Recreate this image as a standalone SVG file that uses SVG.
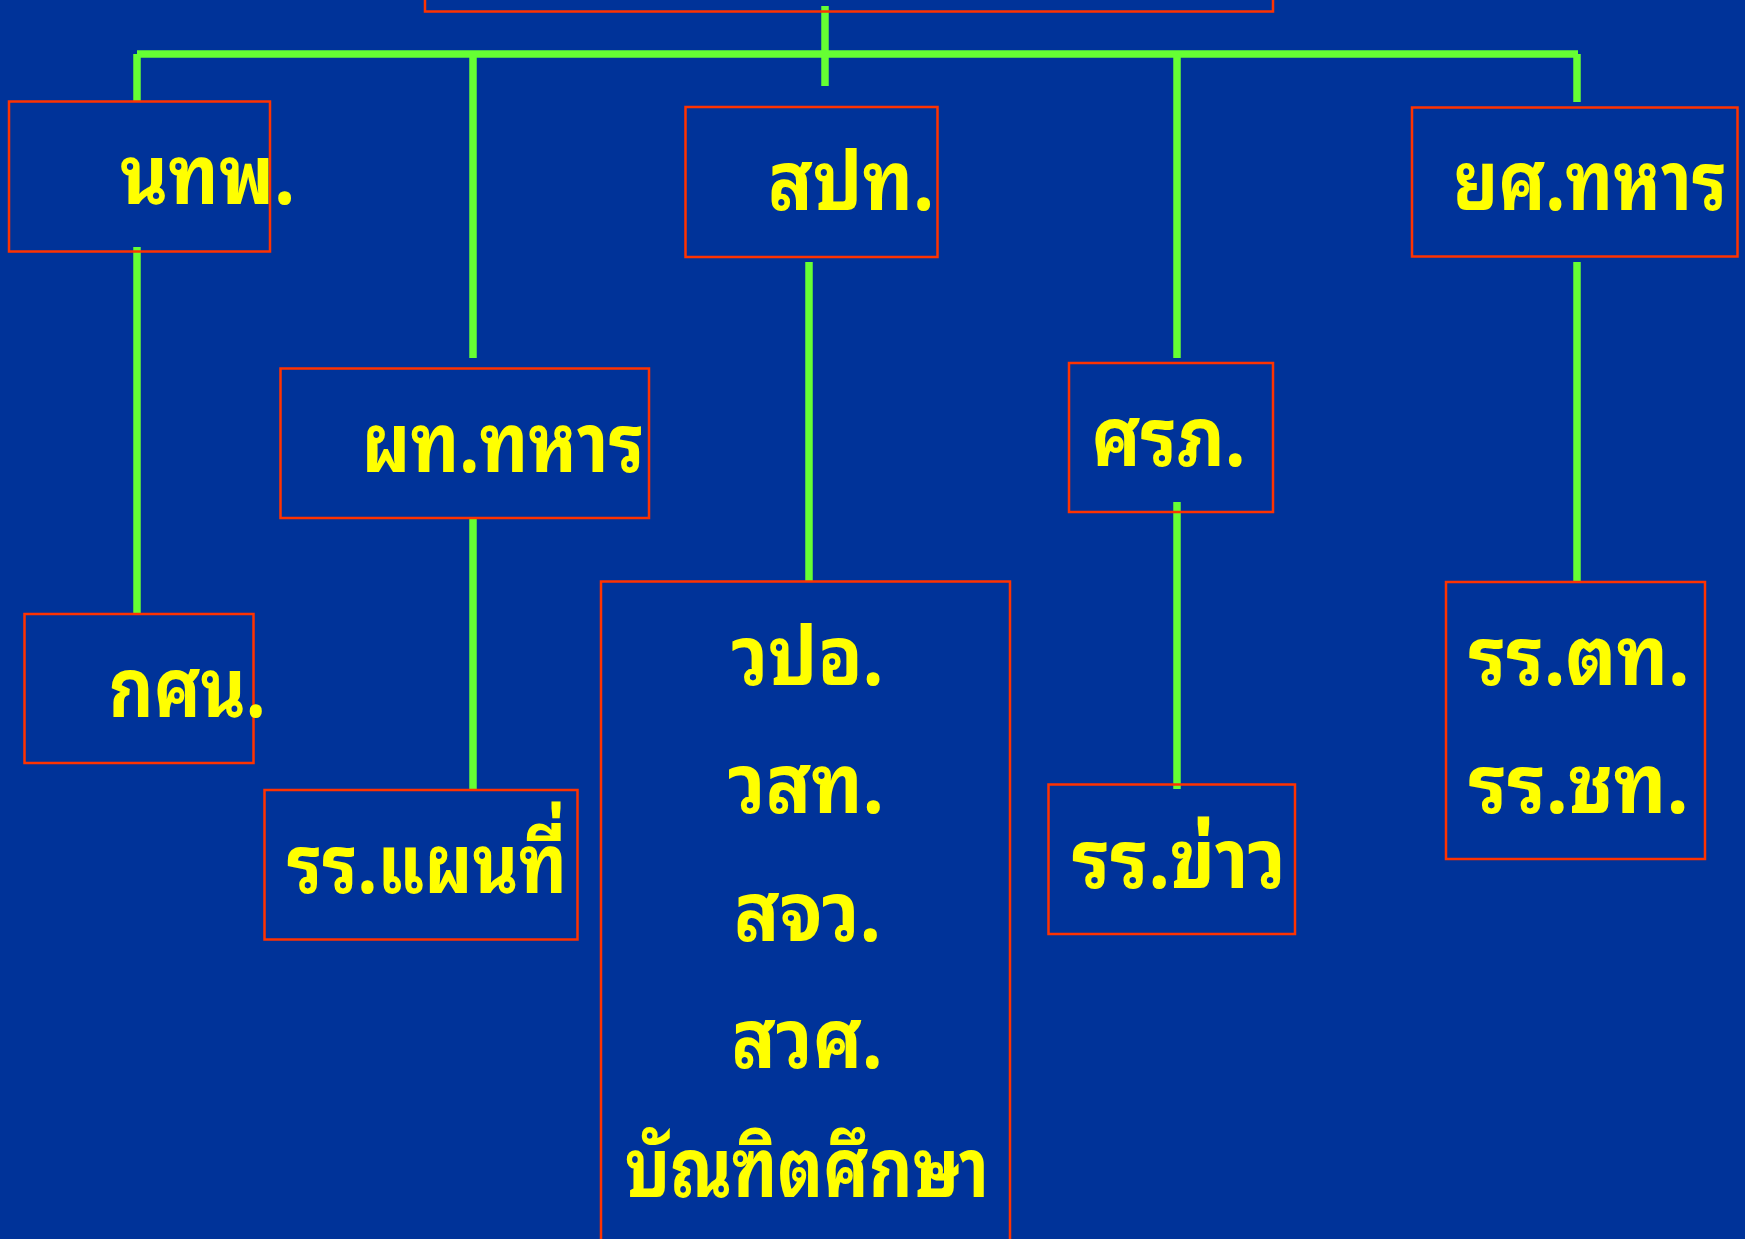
<svg xmlns="http://www.w3.org/2000/svg" width="1745" height="1239" viewBox="0 0 1745 1239">
<style>
.box{fill:none;stroke:#FF3300;stroke-width:2.5}
.lbl{fill:#FFFF00;font-family:"Noto Sans Thai Looped","Noto Serif Thai","Noto Sans Thai","Noto Sans","DejaVu Sans",sans-serif;font-weight:bold;font-size:82px}
.con{stroke:#66FF33;stroke-width:7.5;fill:none}
</style>
<rect x="0" y="0" width="1745" height="1239" fill="#003399"/>
<g id="connectors">
<line class="con" x1="825" y1="6" x2="825" y2="86"/>
<line class="con" x1="137" y1="54" x2="1578" y2="54"/>
<line class="con" x1="137" y1="54" x2="137" y2="101"/>
<line class="con" x1="137" y1="247" x2="137" y2="614"/>
<line class="con" x1="473" y1="54" x2="473" y2="358"/>
<line class="con" x1="473" y1="518" x2="473" y2="790"/>
<line class="con" x1="809" y1="262" x2="809" y2="581"/>
<line class="con" x1="1177" y1="54" x2="1177" y2="358"/>
<line class="con" x1="1177" y1="502" x2="1177" y2="789"/>
<line class="con" x1="1577" y1="54" x2="1577" y2="102"/>
<line class="con" x1="1577" y1="262" x2="1577" y2="582"/>
</g>
<g id="top"><rect class="box" x="425" y="-50" width="848" height="61.5"/></g>
<g id="ntp"><rect class="box" x="9" y="101.5" width="261" height="150"/><text class="lbl" x="120" y="204" textLength="175" lengthAdjust="spacingAndGlyphs">นทพ.</text></g>
<g id="spt"><rect class="box" x="685.5" y="107" width="252" height="150"/><text class="lbl" x="768" y="210" textLength="166" lengthAdjust="spacingAndGlyphs">สปท.</text></g>
<g id="yst"><rect class="box" x="1412" y="107.5" width="325.5" height="149"/><text class="lbl" x="1453" y="210" textLength="274" lengthAdjust="spacingAndGlyphs">ยศ.ทหาร</text></g>
<g id="pth"><rect class="box" x="280.5" y="368.5" width="368.5" height="149.5"/><text class="lbl" x="361.5" y="471.5" textLength="283" lengthAdjust="spacingAndGlyphs">ผท.ทหาร</text></g>
<g id="srp"><rect class="box" x="1069" y="363" width="204" height="149"/><text class="lbl" x="1091.5" y="465.5" textLength="154" lengthAdjust="spacingAndGlyphs">ศรภ.</text></g>
<g id="ksn"><rect class="box" x="24.5" y="614" width="229" height="149"/><text class="lbl" x="108.5" y="717" textLength="157" lengthAdjust="spacingAndGlyphs">กศน.</text></g>
<g id="rrmap"><rect class="box" x="264.5" y="790" width="313" height="149.5"/><text class="lbl" x="287" y="892.5" textLength="280" lengthAdjust="spacingAndGlyphs">รร.แผนที่</text></g>
<g id="rrkhao"><rect class="box" x="1048.5" y="784.5" width="246.5" height="149.5"/><text class="lbl" x="1072" y="887.5" textLength="214" lengthAdjust="spacingAndGlyphs">รร.ข่าว</text></g>
<g id="rrtt"><rect class="box" x="1446" y="582" width="259" height="277"/><text class="lbl" x="1468.5" y="684.5" textLength="221" lengthAdjust="spacingAndGlyphs">รร.ตท.</text><text class="lbl" x="1468.5" y="813" textLength="220" lengthAdjust="spacingAndGlyphs">รร.ชท.</text></g>
<g id="edu"><rect class="box" x="601" y="581.5" width="409" height="700"/>
<text class="lbl" x="731.5" y="684.5" textLength="152" lengthAdjust="spacingAndGlyphs">วปอ.</text>
<text class="lbl" x="728" y="812.5" textLength="156" lengthAdjust="spacingAndGlyphs">วสท.</text>
<text class="lbl" x="734" y="941" textLength="147" lengthAdjust="spacingAndGlyphs">สจว.</text>
<text class="lbl" x="731.5" y="1067.5" textLength="151" lengthAdjust="spacingAndGlyphs">สวศ.</text>
<text class="lbl" x="625" y="1196.5" textLength="364" lengthAdjust="spacingAndGlyphs">บัณฑิตศึกษา</text>
</g>
</svg>
